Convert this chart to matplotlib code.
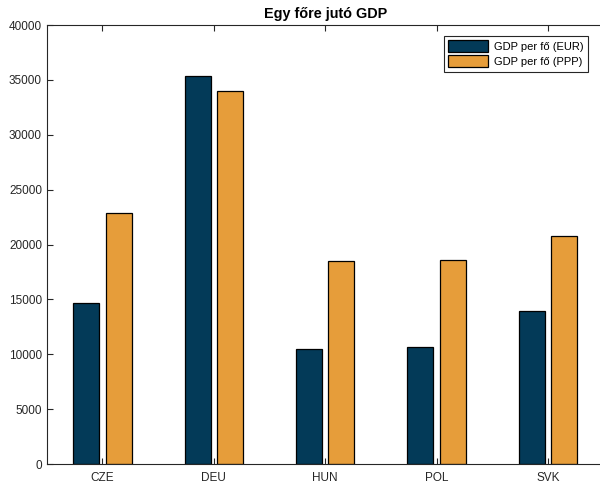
import matplotlib
matplotlib.use("Agg")
import matplotlib.pyplot as plt
import numpy as np

plt.rcParams['font.family'] = ['Liberation Sans', 'DejaVu Sans']

countries = ['CZE', 'DEU', 'HUN', 'POL', 'SVK']
gdp_eur = [14700, 35400, 10500, 10700, 13900]
gdp_ppp = [22900, 34000, 18500, 18600, 20800]
labels = ['GDP per fő (EUR)', 'GDP per fő (PPP)']

navy = '#033A58'
orange = '#E69D3A'

fig = plt.figure(figsize=(6, 4.84), dpi=100)
ax = fig.add_axes([0.078, 0.0413, 0.928, 0.907])

x = np.arange(1, len(countries) + 1)
w = 0.235
ax.bar(x - 0.145, gdp_eur, w, color=navy, edgecolor='black', linewidth=0.9, label=labels[0])
ax.bar(x + 0.145, gdp_ppp, w, color=orange, edgecolor='black', linewidth=0.9, label=labels[1])

ax.set_xlim(0.5, 5.5)
ax.set_ylim(0, 40000)
ax.set_yticks(np.arange(0, 40001, 5000))
ax.set_xticks(x)
ax.set_xticklabels(countries)
ax.tick_params(direction='in', top=True, right=False, labelsize=8.5, colors='#262626', length=4)
ax.tick_params(axis='x', pad=5.5)
for s in ax.spines.values():
    s.set_color('#262626')
    s.set_linewidth(0.8)

ax.set_title('Egy főre jutó GDP', fontsize=10.4, fontweight='bold', pad=5)

leg = ax.legend(loc='upper right', bbox_to_anchor=(0.98, 0.926), bbox_transform=fig.transFigure,
                borderaxespad=0, fontsize=8, handlelength=3.6, handleheight=1.3,
                fancybox=False, edgecolor='#262626', framealpha=1, borderpad=0.4,
                labelspacing=0.25, handletextpad=0.5)
leg.get_frame().set_linewidth(0.8)

fig.savefig('out.png', dpi=100)
